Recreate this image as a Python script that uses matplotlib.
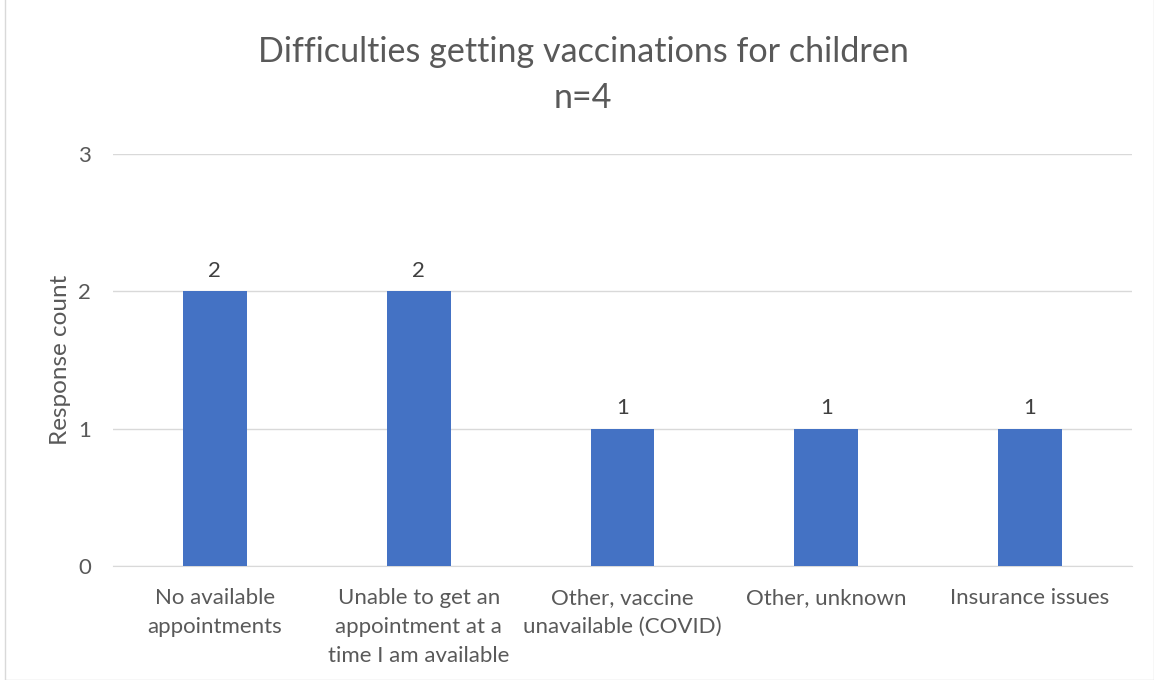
import matplotlib
matplotlib.use("Agg")
import matplotlib.pyplot as plt
from matplotlib.patches import Rectangle

categories = ["No available\nappointments",
              "Unable to get an\nappointment at a\ntime I am available",
              "Other, vaccine\nunavailable (COVID)",
              "Other, unknown",
              "Insurance issues"]
values = [2, 2, 1, 1, 1]
yticks = [0, 1, 2, 3]

plt.rcParams['font.family'] = ['Lato', 'DejaVu Sans']
text_color = "#595959"

fig = plt.figure(figsize=(11.54, 6.8), dpi=100)
ax = fig.add_axes([113/1154, 1-566/680, (1132-113)/1154, (566-154)/680])

x = list(range(len(categories)))
bars = ax.bar(x, values, width=0.314, color="#4472C4", zorder=3)
for xi, v in zip(x, values):
    ax.text(xi, v + 0.075, str(v), ha="center", va="bottom", fontsize=16, color="#404040")

ax.set_xlim(-0.5, len(categories) - 0.5)
ax.set_ylim(0, 3)
ax.set_yticks(yticks)
ax.set_yticklabels([str(t) for t in yticks], fontsize=16, color=text_color)
ax.set_xticks(x)
ax.set_xticklabels(categories, fontsize=16, color=text_color, linespacing=1.55, va="top")
ax.tick_params(axis="both", length=0)
ax.tick_params(axis="x", pad=16)
ax.tick_params(axis="y", pad=16)
ax.grid(axis="y", color="#D9D9D9", linewidth=1, zorder=0)
for s in ["top", "right", "left"]:
    ax.spines[s].set_visible(False)
ax.spines["bottom"].set_color("#D9D9D9")
ax.set_ylabel("Response count", fontsize=17.5, color=text_color, labelpad=5)

fig.text(583/1154, 1-75/680, "Difficulties getting vaccinations for children\nn=4",
         ha="center", va="center", fontsize=24.6, color=text_color, linespacing=1.55)

fig.add_artist(Rectangle((4.5/1154, 0.5/680), 1 - 5/1154, 1.2, transform=fig.transFigure,
                         fill=False, edgecolor="#D9D9D9", linewidth=1))

fig.savefig("out.png", dpi=100)
